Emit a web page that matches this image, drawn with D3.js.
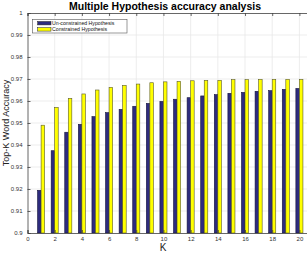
<!DOCTYPE html>
<html>
<head>
  <meta charset="utf-8">
  <script src="https://cdn.jsdelivr.net/npm/d3@7"></script>
  <style>
    body { margin: 0; background: #fff; }
    svg { display: block; font-family: "Liberation Sans", Arial, sans-serif; }
  </style>
</head>
<body>
  <svg width="307" height="254"></svg>
  <script>
    var ks = d3.range(1, 21);
    var unconstrained = [0.9194, 0.9374, 0.9458, 0.9494, 0.9529, 0.9547, 0.9562, 0.9576, 0.9589, 0.9598,
                         0.9608, 0.9615, 0.9623, 0.9629, 0.9635, 0.9639, 0.9644, 0.9647, 0.9653, 0.9657];
    var constrained = [0.9490, 0.9571, 0.9612, 0.9632, 0.9650, 0.9662, 0.9671, 0.9677, 0.9683, 0.9687,
                       0.9689, 0.9692, 0.9694, 0.9694, 0.9697, 0.9697, 0.9698, 0.9698, 0.9698, 0.9698];
    var seriesNames = ["Un-constrained Hypothesis", "Constrained Hypothesis"];
    var xTicks = [0, 2, 4, 6, 8, 10, 12, 14, 16, 18, 20];
    var yTicks = [0.9, 0.91, 0.92, 0.93, 0.94, 0.95, 0.96, 0.97, 0.98, 0.99, 1];
    var yTickLabels = ["0.9", "0.91", "0.92", "0.93", "0.94", "0.95", "0.96", "0.97", "0.98", "0.99", "1"];

    var svg = d3.select("svg");
    // plot box (window.top is read-only, so no bare "top")
    var pLeft = 27.5, pRight = 313, pTop = 13, pBottom = 233;

    var x = d3.scaleLinear().domain([0, 21]).range([pLeft, pRight]);
    var y = d3.scaleLinear().domain([0.9, 1]).range([pBottom, pTop]);

    // grid
    svg.append("g").selectAll("line").data(xTicks.slice(1)).join("line")
      .attr("x1", d => x(d)).attr("x2", d => x(d))
      .attr("y1", pTop).attr("y2", pBottom)
      .attr("stroke", "#e8e8e8").attr("stroke-width", 0.8);
    svg.append("g").selectAll("line").data(yTicks.slice(1, -1)).join("line")
      .attr("x1", pLeft).attr("x2", pRight)
      .attr("y1", d => y(d)).attr("y2", d => y(d))
      .attr("stroke", "#e8e8e8").attr("stroke-width", 0.8);

    // bars
    var bw = 0.26;
    svg.append("g").selectAll("rect").data(unconstrained).join("rect")
      .attr("x", (d, i) => x(ks[i] - bw))
      .attr("width", x(bw) - x(0))
      .attr("y", d => y(d))
      .attr("height", d => y(0.9) - y(d))
      .attr("fill", "#2e2c7e").attr("stroke", "#15143d").attr("stroke-width", 0.6);
    svg.append("g").selectAll("rect").data(constrained).join("rect")
      .attr("x", (d, i) => x(ks[i]))
      .attr("width", x(bw) - x(0))
      .attr("y", d => y(d))
      .attr("height", d => y(0.9) - y(d))
      .attr("fill", "#ffff00").attr("stroke", "#5a5a2a").attr("stroke-width", 0.6);

    // axes
    var xAxis = d3.axisBottom(x).tickValues(xTicks).tickSize(-3).tickPadding(5);
    var gx = svg.append("g").attr("transform", `translate(0,${pBottom})`).call(xAxis);
    var gxt = svg.append("g").attr("transform", `translate(0,${pTop})`)
      .call(d3.axisTop(x).tickValues(xTicks).tickSize(-3).tickFormat(""));
    var yAxis = d3.axisLeft(y).tickValues(yTicks).tickSize(-3).tickPadding(5)
      .tickFormat((d, i) => yTickLabels[i]);
    var gy = svg.append("g").attr("transform", `translate(${pLeft},0)`).call(yAxis);
    [gx, gxt, gy].forEach(function(g) {
      g.select(".domain").attr("stroke", "#404040").attr("stroke-width", 0.8);
      g.selectAll(".tick line").attr("stroke", "#404040").attr("stroke-width", 0.8);
      g.selectAll("text").attr("font-size", 6).attr("fill", "#333")
        .attr("font-family", "Liberation Sans, Arial, sans-serif");
    });
    gx.selectAll("text").attr("dy", "0.5em");

    // title and labels
    svg.append("text").attr("x", 165).attr("y", 10).attr("text-anchor", "middle")
      .attr("font-size", 10.5).attr("font-weight", "bold").attr("fill", "#000")
      .text("Multiple Hypothesis accuracy analysis");
    svg.append("text").attr("transform", `translate(8.5,${(pTop + pBottom) / 2}) rotate(-90)`)
      .attr("text-anchor", "middle").attr("font-size", 9).attr("fill", "#222")
      .text("Top-K Word Accuracy");
    svg.append("text").attr("x", 163).attr("y", 251).attr("text-anchor", "middle")
      .attr("font-size", 10).attr("fill", "#222").text("K");

    // legend
    var lg = svg.append("g");
    lg.append("rect").attr("x", 32.5).attr("y", 19.5).attr("width", 94.5).attr("height", 13.5)
      .attr("fill", "#fff").attr("stroke", "#555").attr("stroke-width", 0.6);
    var colors = ["#2e2c7e", "#ffff00"];
    seriesNames.forEach(function(name, i) {
      lg.append("rect").attr("x", 37.7).attr("y", 21.5 + i * 6.2).attr("width", 13.3).attr("height", 3.4)
        .attr("fill", colors[i]).attr("stroke", "#222").attr("stroke-width", 0.5);
      lg.append("text").attr("x", 52).attr("y", 25 + i * 6.2)
        .attr("font-size", 5.2).attr("fill", "#111").text(name);
    });
  </script>
</body>
</html>
